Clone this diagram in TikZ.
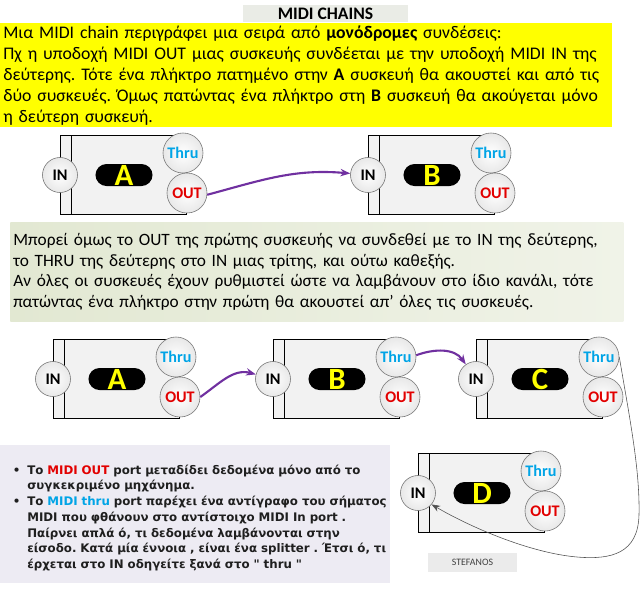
\documentclass[tikz,border=0pt]{standalone}
\usepackage{fontspec}
\setmainfont{Carlito}
\newfontfamily\notesfont{DejaVu Sans}
\usepackage{xcolor}
\definecolor{midiYellow}{RGB}{255,255,0}
\definecolor{midiPurple}{RGB}{112,48,160}
\definecolor{midiRed}{RGB}{226,0,0}
\definecolor{midiBlue}{RGB}{0,164,230}
\definecolor{midiTitle}{RGB}{234,236,230}
\definecolor{midiNote}{RGB}{237,235,243}
\definecolor{midiGreenL}{RGB}{226,232,210}
\definecolor{midiGreenR}{RGB}{240,243,232}
\definecolor{midiGray}{RGB}{80,80,80}
\usetikzlibrary{arrows.meta, positioning}
\frenchspacing

\begin{document}
\begin{tikzpicture}[x=0.025cm, y=-0.025cm,
  panel/.style={rectangle, inner ysep=0pt, align=left},
  devbox/.style={draw=black, fill=black!5},
  pill/.style={rectangle, fill=black, text=midiYellow, rounded corners=0.275cm,
               minimum width=1.425cm, minimum height=0.55cm, inner sep=0pt,
               font=\fontsize{22}{22}\selectfont\bfseries},
  port/.style={circle, draw=black!55, inner sep=0pt, minimum size=1cm,
               shade, inner color=white, outer color=black!9,
               font=\fontsize{11.5}{12}\selectfont\bfseries},
  chain/.style={-{Stealth[length=7pt]}, line width=1.5pt, midiPurple},
  relay/.style={-{Stealth[length=6pt]}, thin, midiGray},
]
  \useasboundingbox[fill=white] (0,0) rectangle (640,594);

  % title and first explanation
  \node[panel, fill=midiTitle, align=center, minimum width=4.125cm, minimum height=0.425cm,
        font=\fontsize{12.5}{14}\selectfont\bfseries] (title) at (325.5,13.5) {MIDI CHAINS};
  \node[panel, fill=midiYellow, anchor=north west, text width=15.15cm, inner xsep=0.075cm,
        minimum height=2.6cm, font=\fontsize{12.6}{15}\selectfont] (intro) at (0,23)
    {Μια MIDI chain περιγράφει μια σειρά από \textbf{μονόδρομες} συνδέσεις:\\
     Πχ η υποδοχή MIDI OUT μιας συσκευής συνδέεται με την υποδοχή MIDI IN της\\
     δεύτερης. Τότε ένα πλήκτρο πατημένο στην \textbf{A} συσκευή θα ακουστεί και από τις\\
     δύο συσκευές. Όμως πατώντας ένα πλήκτρο στη \textbf{B} συσκευή θα ακούγεται μόνο\\
     η δεύτερη συσκευή.};

  % second explanation
  \node[panel, left color=midiGreenL, right color=midiGreenR, anchor=north west,
        text width=15.175cm, inner xsep=0.075cm, minimum height=2.475cm,
        font=\fontsize{12.3}{14.6}\selectfont] (chaintext) at (10,222)
    {Μπορεί όμως το OUT της πρώτης συσκευής να συνδεθεί με το IN της δεύτερης,\\
     το THRU της  δεύτερης στο IN μιας τρίτης, και ούτω καθεξής.\\
     Αν όλες οι συσκευές έχουν ρυθμιστεί ώστε να λαμβάνουν στο ίδιο κανάλι, τότε\\
     πατώντας ένα πλήκτρο στην πρώτη θα ακουστεί απ’ όλες τις συσκευές.};

  % the devices
  \foreach \n/\x/\y/\l in {a1/60/175/A, b1/368/175/B, a2/53/379/A, b2/273/379/B,
                           c2/476/379/C, d2/418/493/D}{
    \draw[devbox] (\x,\y-40) rectangle (\x+126,\y+39);
    \draw (\x+11,\y-40) -- (\x+11,\y+39);
    \node[pill] (\n-name) at (\x+64,\y) {\l};
    \node[port, minimum size=0.875cm] (\n-in) at (\x,\y) {IN};
    \node[port, text=midiBlue] (\n-thru) at (\x+123,\y-22) {Thru};
    \node[port, text=midiRed] (\n-out) at (\x+127,\y+18) {OUT};
  }

  % cables
  \draw[chain] (a1-out.-5) to[out=15, in=175] (b1-in);
  \draw[chain] (a2-out.0) to[out=35, in=165] (b2-in);
  \draw[chain] (b2-thru.5) to[out=20, in=125] (c2-in);
  \draw[relay] (c2-thru.0) .. controls (630,420) and (640,470) .. (639,515)
    .. controls (638,553) and (612,560) .. (577,557)
    .. controls (530,553) and (470,527) .. (d2-in.-40);

  % notes on the ports
  \node[panel, fill=midiNote, anchor=north west, text width=9.75cm, inner xsep=0pt,
        minimum height=3.45cm, text=black!88,
        font=\notesfont\fontsize{8.4}{11.2}\selectfont\bfseries] (notes) at (0,445)
    {\rule{0pt}{0.42cm}\makebox[0.675cm][l]{\hspace*{0.3125cm}\textbullet}Το \textcolor{midiRed}{MIDI OUT} port μεταδίδει δεδομένα μόνο από το\\
     \hspace*{0.675cm}συγκεκριμένο μηχάνημα.\\
     \makebox[0.675cm][l]{\hspace*{0.3125cm}\textbullet}Το \textcolor{midiBlue}{MIDI thru} port παρέχει ένα αντίγραφο του σήματος\\
     \hspace*{0.675cm}MIDI που φθάνουν στο αντίστοιχο MIDI In port .\\
     \hspace*{0.675cm}Παίρνει απλά ό, τι δεδομένα λαμβάνονται στην\\
     \hspace*{0.675cm}είσοδο. Κατά μία έννοια , είναι ένα splitter . Έτσι ό, τι\\
     \hspace*{0.675cm}έρχεται στο IN  οδηγείτε ξανά στο " thru "};

  \node[panel, fill=black!8, align=center, minimum width=2.225cm, minimum height=0.475cm,
        font=\fontsize{7}{8}\selectfont, text=black!75] (sign) at (472.5,562.5) {STEFANOS};
\end{tikzpicture}
\end{document}
